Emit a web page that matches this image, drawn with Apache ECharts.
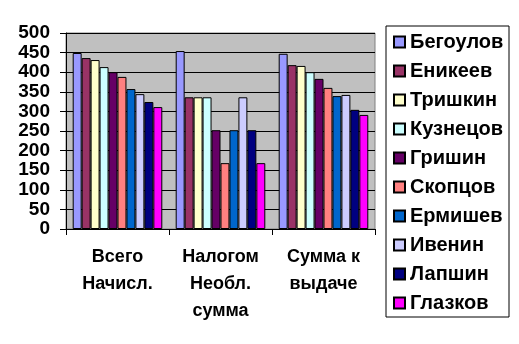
<!DOCTYPE html>
<html><head><meta charset="utf-8">
<script src="https://cdn.jsdelivr.net/npm/echarts@6/dist/echarts.min.js"></script>
<style>html,body{margin:0;padding:0;background:#fff}#c{width:519px;height:344px}</style>
</head><body><div id="c"></div>
<script>
const categories = ['Всего\nНачисл.', 'Налогом\nНеобл.\nсумма', 'Сумма к\nвыдаче'];
const names = ['Бегоулов','Еникеев','Тришкин','Кузнецов','Гришин','Скопцов','Ермишев','Ивенин','Лапшин','Глазков'];
const colors = ['#9999FF','#993366','#FFFFCC','#CCFFFF','#660066','#FF8080','#0066CC','#CCCCFF','#000080','#FF00FF'];
const begoulov = [449, 454, 447];
const enikeev = [436, 336, 418];
const trishkin = [431, 336, 416];
const kuznetsov = [413, 336, 400];
const grishin = [400, 252, 383];
const skoptsov = [388, 168, 360];
const ermishev = [357, 252, 339];
const ivenin = [344, 336, 342];
const lapshin = [324, 252, 304];
const glazkov = [311, 168, 291];
const yTicks = [0, 500, 50];
const values = [begoulov, enikeev, trishkin, kuznetsov, grishin, skoptsov, ermishev, ivenin, lapshin, glazkov];

const font = 'Liberation Sans, Arial, sans-serif';
const chart = echarts.init(document.getElementById('c'), null, {renderer: 'canvas'});
chart.setOption({
  animation: false,
  backgroundColor: '#fff',
  grid: {left: 66, right: 144, top: 33, bottom: 115, show: true, backgroundColor: '#C0C0C0', borderColor: '#808080', borderWidth: 1},
  legend: {
    orient: 'vertical', left: 386, top: 26,
    padding: [6, 4, 4, 7],
    borderColor: '#000', borderWidth: 1,
    itemWidth: 11, itemHeight: 11, itemGap: 9,
    icon: 'rect',
    textStyle: {fontFamily: font, fontSize: 20, fontWeight: 'bold', color: '#000', lineHeight: 20, width: 95},
    data: names
  },
  xAxis: {
    type: 'category', data: categories,
    axisLine: {lineStyle: {color: '#000', width: 1}},
    axisTick: {show: true, length: 6, lineStyle: {color: '#000'}},
    axisLabel: {fontFamily: font, fontSize: 18, fontWeight: 'bold', color: '#000', lineHeight: 27, margin: 15, interval: 0}
  },
  yAxis: {
    type: 'value', min: yTicks[0], max: yTicks[1], interval: yTicks[2],
    axisLine: {show: true, lineStyle: {color: '#000', width: 1}},
    axisTick: {show: true, length: 6, lineStyle: {color: '#000'}},
    splitLine: {lineStyle: {color: '#000', width: 1}},
    axisLabel: {fontFamily: font, fontSize: 19, fontWeight: 'bold', color: '#000', margin: 16}
  },
  series: names.map((n, i) => ({
    name: n, type: 'bar', data: values[i],
    barGap: 0, barCategoryGap: '13%',
    itemStyle: {color: colors[i], borderColor: '#000', borderWidth: 1}
  }))
});
</script></body></html>
